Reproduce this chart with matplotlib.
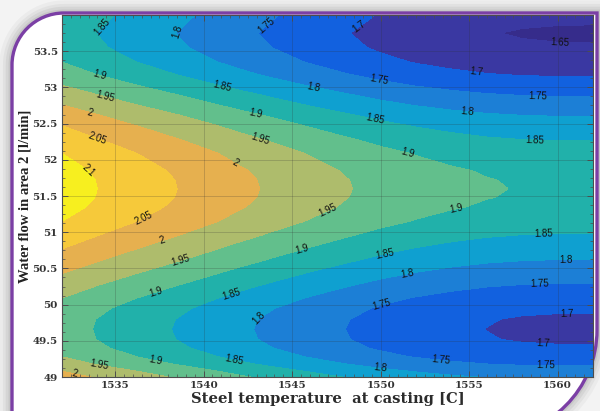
import numpy as np
import matplotlib
matplotlib.use('Agg')
import matplotlib.pyplot as plt
from matplotlib.path import Path
from matplotlib.patches import PathPatch
from matplotlib.ticker import MultipleLocator

# steel temperature at casting [C] and drop of the response vs. the 1532 C column
temp = [1532, 1534, 1536, 1538, 1540, 1542, 1544, 1546, 1548, 1550,
        1552, 1554, 1556, 1558, 1560, 1562]
temp_drop = [0.000, -0.025, -0.0475, -0.0695, -0.091, -0.113, -0.1335, -0.153,
             -0.1715, -0.1885, -0.2025, -0.2135, -0.222, -0.227, -0.229, -0.2295]

# water flow in area 2 [l/min] and response read along the left edge (1532 C)
flow = [49.00, 49.08, 49.18, 49.28, 49.40, 49.52, 49.66, 49.80, 49.95, 50.09,
        50.25, 50.43, 50.60, 50.77, 50.95, 51.15, 51.35, 51.48, 51.60, 51.72,
        51.85, 52.09, 52.28, 52.47, 52.62, 52.76, 52.90, 53.02, 53.18, 53.35,
        53.55, 53.75, 54.00]
z_left = [2.020, 2.000, 1.972, 1.950, 1.933, 1.924, 1.9215, 1.924, 1.934, 1.950,
          1.973, 2.000, 2.026, 2.050, 2.075, 2.100, 2.117, 2.1232, 2.125, 2.1235,
          2.1185, 2.100, 2.077, 2.050, 2.026, 2.000, 1.975, 1.952, 1.924, 1.900,
          1.882, 1.874, 1.886]

levels = [1.60, 1.65, 1.70, 1.75, 1.80, 1.85, 1.90, 1.95, 2.00, 2.05, 2.10, 2.15]
band_colors = ['#362c8b', '#3a38a2', '#1261df', '#1c7fd6', '#0fa0d0', '#21b1aa',
               '#62bf8c', '#aebc6c', '#e6b04f', '#f6c93a', '#f7ef1f']

xticks = [1535, 1540, 1545, 1550, 1555, 1560]
yticks = [49, 49.5, 50, 50.5, 51, 51.5, 52, 52.5, 53, 53.5]
ytick_labels = ['49', '49.5', '50', '50.5', '51', '51.5', '52', '52.5', '53', '53.5']

# where the contour labels sit (data coords)
label_pos = [(1534.3, 53.83), (1538.5, 53.77), (1543.5, 53.86), (1548.7, 53.86),
             (1560.1, 53.5), (1534.1, 53.14), (1534.4, 52.85), (1533.6, 52.65),
             (1534.0, 52.3), (1533.5, 51.86), (1541.0, 52.99), (1546.2, 52.99),
             (1549.9, 53.07), (1555.4, 53.2), (1558.9, 52.85), (1554.9, 52.65),
             (1549.7, 52.55), (1558.7, 52.26), (1551.5, 52.1), (1542.9, 52.62),
             (1543.2, 52.29), (1541.8, 51.96), (1536.7, 51.15), (1537.7, 50.85),
             (1538.7, 50.59), (1537.3, 50.19), (1541.6, 50.13), (1543.2, 49.79),
             (1534.1, 49.17), (1537.3, 49.22), (1541.7, 49.22), (1532.7, 49.03),
             (1547.0, 51.31), (1554.3, 51.3), (1545.6, 50.75), (1550.3, 50.66),
             (1551.5, 50.4), (1559.2, 50.96), (1560.5, 50.62), (1559.0, 50.28),
             (1550.1, 49.97), (1560.5, 49.88), (1559.2, 49.43), (1553.4, 49.23),
             (1550.0, 49.14), (1559.3, 49.02)]

Z = np.add.outer(z_left, temp_drop)

W, H = 600, 411
fig = plt.figure(figsize=(6, 4.11), dpi=100, facecolor='#f3f3f3')

# decorative frame: rounded top-left and bottom-right corners
def P(x, y):
    return (x / W, 1 - y / H)

k = 0.5523
verts = [P(12, 437), P(12, 65), P(12, 65 - k * 52), P(64 - k * 52, 13), P(64, 13),
         P(597, 13), P(597, 330), P(597, 330 + k * 107), P(490 + k * 107, 437),
         P(490, 437), P(12, 437)]
codes = [Path.MOVETO, Path.LINETO, Path.CURVE4, Path.CURVE4, Path.CURVE4,
         Path.LINETO, Path.LINETO, Path.CURVE4, Path.CURVE4, Path.CURVE4,
         Path.CLOSEPOLY]
frame = Path(verts, codes)
for lw, a in [(18, 0.06), (13, 0.08), (9, 0.10), (5, 0.13)]:
    fig.add_artist(PathPatch(frame, transform=fig.transFigure, facecolor='none',
                             edgecolor='#6e6e6e', lw=lw, alpha=a, zorder=-10))
fig.add_artist(PathPatch(frame, transform=fig.transFigure, facecolor='white',
                         edgecolor='#7b3fa5', lw=2.4, zorder=-5))

ax = fig.add_axes([62 / W, 1 - 377 / H, 531 / W, 362 / H])
ax.contourf(temp, flow, Z, levels=levels, colors=band_colors)
cs = ax.contour(temp, flow, Z, levels=levels, colors='none')
texts = ax.clabel(cs, manual=label_pos, fmt=lambda v: f'{v:g}', fontsize=7,
                  colors='#111111', inline=False)
for t in texts:
    t.set_fontfamily('Liberation Sans')

ax.set_xlim(1532, 1562)
ax.set_ylim(49, 54)
ax.set_xticks(xticks)
ax.set_yticks(yticks)
ax.set_yticklabels(ytick_labels)
ax.xaxis.set_minor_locator(MultipleLocator(0.5))
ax.yaxis.set_minor_locator(MultipleLocator(0.125))
ax.grid(True, color='#303030', alpha=0.22, lw=0.7)

ax.tick_params(which='both', direction='in', top=True, right=True,
               colors='#4d4d4d', labelcolor='#333333', labelsize=7.5)
ax.tick_params(which='major', length=4, width=0.7, pad=3)
ax.tick_params(which='minor', length=2, width=0.5)
for lbl in ax.get_xticklabels() + ax.get_yticklabels():
    lbl.set_fontfamily('DejaVu Serif')
    lbl.set_fontweight('bold')
for sp in ax.spines.values():
    sp.set_color('#4d4d4d')
    sp.set_linewidth(0.8)

ax.set_xlabel('Steel temperature  at casting [C]', fontfamily='DejaVu Serif',
              fontweight='bold', fontsize=10.6, color='#2b2b2b')
ax.xaxis.set_label_coords(0.5, -0.042)
ax.set_ylabel('Water flow in area 2 [l/min]', fontfamily='Liberation Serif',
              fontweight='bold', fontsize=10.5, color='#222222')
ax.yaxis.set_label_coords(-0.058, 0.5)

fig.savefig('out.png', dpi=100)
